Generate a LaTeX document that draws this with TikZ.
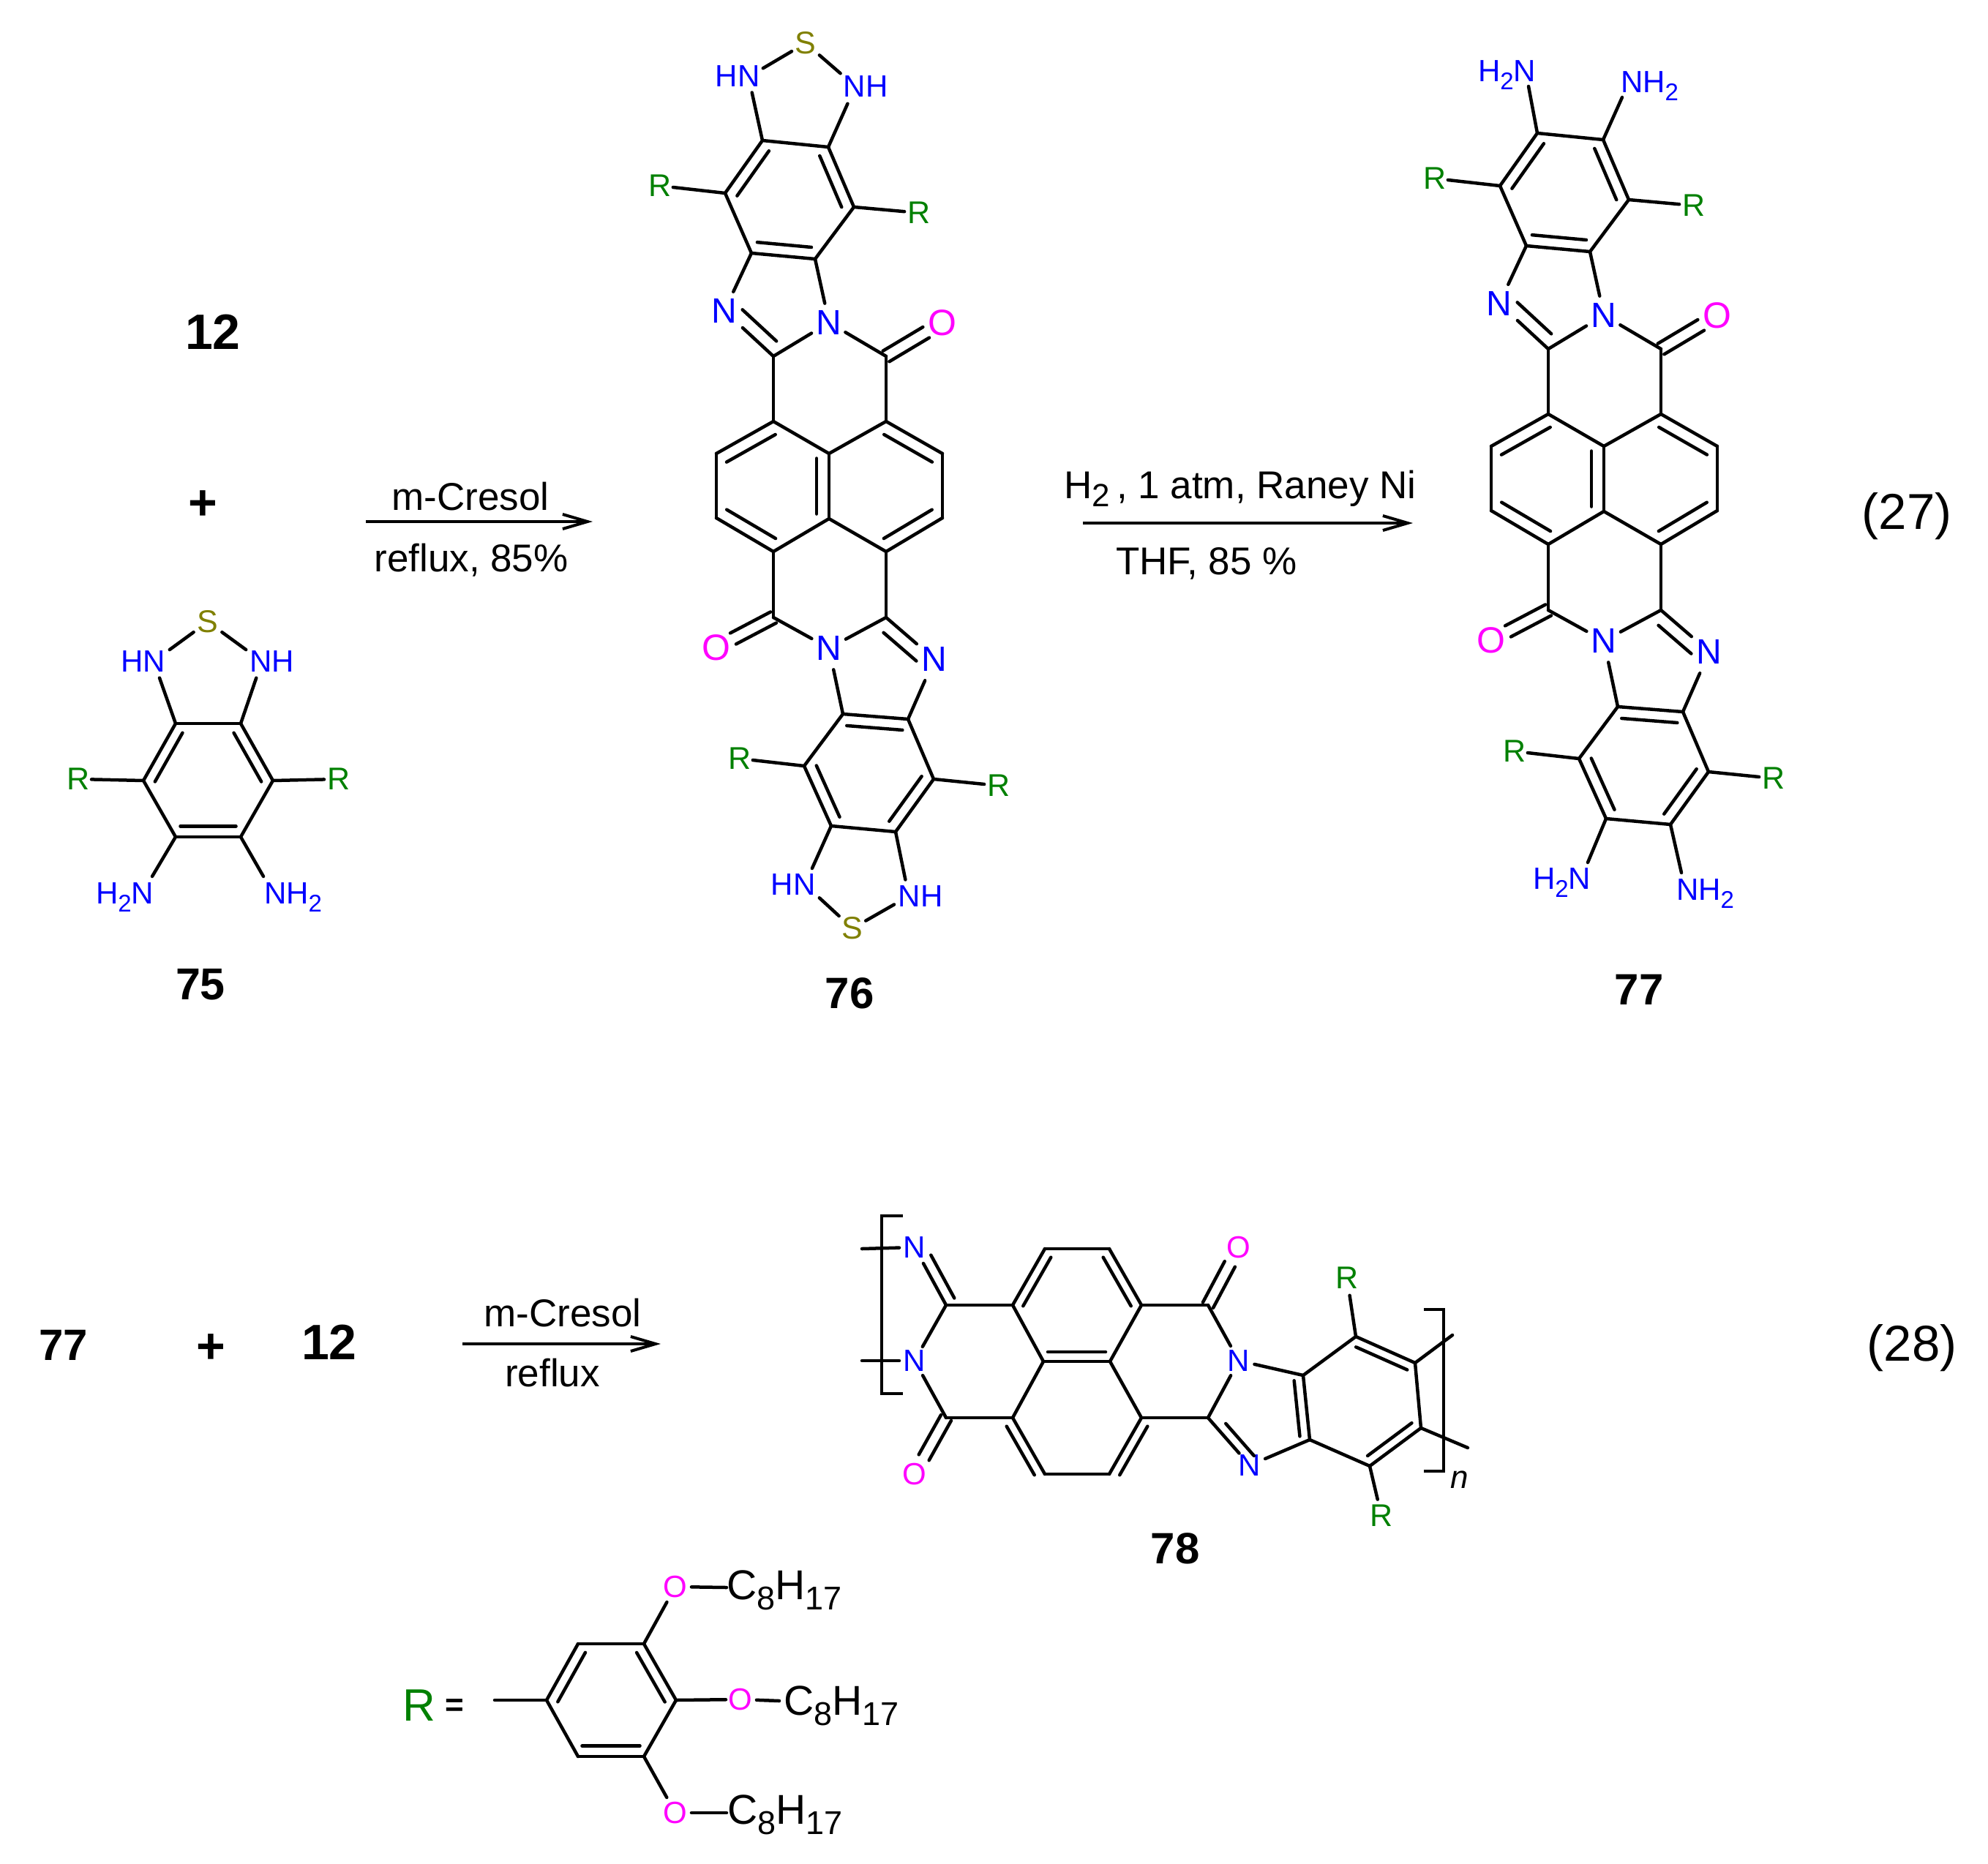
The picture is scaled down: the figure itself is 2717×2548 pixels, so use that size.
\documentclass[tikz,border=0pt]{standalone}
\usepackage{fontspec}
\setmainfont{Liberation Sans}
\usetikzlibrary{calc,arrows.meta}
\definecolor{cN}{HTML}{0000FF}
\definecolor{cO}{HTML}{FF00FF}
\definecolor{cS}{HTML}{808000}
\definecolor{cR}{HTML}{008000}
\newcommand\fs[1]{\fontsize{#1}{#1}\selectfont}
\tikzset{
 bond/.style={line width=4.5pt,line cap=round,line join=round,black},
 ga/.style={shorten <=#1pt},
 gb/.style={shorten >=#1pt},
 lab/.style={inner sep=0pt,outer sep=0pt},
 lN/.style={lab,text=cN,font=\fs{48}},
 lNs/.style={lab,text=cN,font=\fs{42}},
 lNt/.style={lab,text=cN,font=\fs{42}},
 lO/.style={lab,text=cO,font=\fs{50}},
 lOs/.style={lab,text=cO,font=\fs{42}},
 lS/.style={lab,text=cS,font=\fs{43}},
 lR/.style={lab,text=cR,font=\fs{43}},
 lT/.style={lab,text=black,font=\fs{53},anchor=base},
 lB/.style={lab,text=black,font=\fs{60}\bfseries},
 lE/.style={lab,text=black,font=\fs{69}},
 lC/.style={lab,text=black,font=\fs{57},anchor=base west},
 rxn/.style={line width=4pt,-{Straight Barb[length=34pt,width=20pt]}},
 brk/.style={line width=3.5pt,line cap=butt,line join=miter},
}
\def\ioff{15.5}
\def\ish{6.5}
\newcommand\bn[3][]{\draw[bond,#1] (#2) -- (#3);}
\newcommand\ib[2]{\draw[bond,shorten <=\ish pt,shorten >=\ish pt] ($(#1)!\ioff pt!-90:(#2)$) -- ($(#2)!\ioff pt!90:(#1)$);}
\newcommand\ibx[5]{\draw[bond,shorten <=#2pt,shorten >=#3pt] ($(#4)!#1pt!-90:(#5)$) -- ($(#5)!#1pt!90:(#4)$);}
\newcommand\dbo[3][8.5]{%
 \draw[bond,shorten >=26pt] ($(#2)!#1pt!-90:(#3)$) -- ($(#3)!#1pt!90:(#2)$);
 \draw[bond,shorten >=26pt] ($(#2)!#1pt!90:(#3)$) -- ($(#3)!#1pt!-90:(#2)$);}
\newcommand\atom[5]{\coordinate (#1) at (#2,#3); \node[#4] (#1t) at (#1) {#5};}
\newcommand\HtN{H\raisebox{-11pt}{\fs{33}2}N}
\newcommand\NHt{NH\raisebox{-11pt}{\fs{33}2}}
\newcommand\CeH{C\raisebox{-14pt}{\fs{45}8}H\raisebox{-14pt}{\fs{45}17}}
\newcommand\skel{%
 \foreach \n/\x/\y in {a/1042/192,b/1132/201,c/1167/283,d/1114/354,e/1027/346,f/991/264,
   g/1152/976,h/1241/983,i/1276/1065,j/1224/1137,k/1136/1129,l/1099/1047,
   Ca/1057/487,Cb/1211/487,Cc/1057/576,Cd/1211/576,Cm/1133/620,Ce/979/620,Cf/1288/620,
   Cg/979/708,Ch/1288/708,Cn/1133/709,Ci/1057/754,Cj/1211/754,Ck/1057/844,Cl/1211/844}
   {\coordinate (\n) at (\x,\y);}
 \atom{Na}{990}{425}{lN}{N}
 \atom{Nb}{1133}{441}{lN}{N}
 \atom{Oa}{1288}{441}{lO}{O}
 \atom{Nc}{1133}{886}{lN}{N}
 \atom{Nd}{1277}{901}{lN}{N}
 \atom{Ob}{979}{885}{lO}{O}
 \atom{Ra}{902}{254}{lR}{R}
 \atom{Rb}{1256}{291}{lR}{R}
 \atom{Rc}{1011}{1037}{lR}{R}
 \atom{Rd}{1365}{1074}{lR}{R}
 \bn{a}{b}\bn{b}{c}\bn{c}{d}\bn{d}{e}\bn{e}{f}\bn{f}{a}
 \ib{f}{a}\ib{b}{c}\ib{d}{e}
 \bn{g}{h}\bn{h}{i}\bn{i}{j}\bn{j}{k}\bn{k}{l}\bn{l}{g}
 \ib{g}{h}\ib{i}{j}\ib{k}{l}
 \bn[gb=18]{f}{Ra}\bn[gb=20]{c}{Rb}\bn[gb=18]{l}{Rc}\bn[gb=20]{i}{Rd}
 \bn[gb=29]{e}{Na}\bn[gb=27]{d}{Nb}\bn[gb=28]{Ca}{Nb}\bn[gb=26]{Cb}{Nb}
 \bn[gb=34]{Ca}{Na}\ibx{18}{11}{17}{Ca}{Na}
 \dbo{Cb}{Oa}
 \bn{Ca}{Cc}\bn{Cb}{Cd}
 \bn{Cc}{Cm}\bn{Cm}{Cd}\bn{Cd}{Cf}\bn{Cf}{Ch}\bn{Ch}{Cj}\bn{Cj}{Cn}\bn{Cn}{Ci}\bn{Ci}{Cg}\bn{Cg}{Ce}\bn{Ce}{Cc}\bn{Cm}{Cn}
 \def\ioff{17}
 \ib{Ce}{Cc}\ib{Ci}{Cg}\ib{Cd}{Cf}\ib{Ch}{Cj}\ib{Cm}{Cn}
 \bn{Ci}{Ck}\bn{Cj}{Cl}
 \dbo{Ck}{Ob}
 \bn[gb=27]{Ck}{Nc}\bn[gb=26]{Cl}{Nc}
 \bn[gb=32]{Cl}{Nd}\ibx{18}{11}{17}{Cl}{Nd}
 \bn[ga=30]{Nc}{g}\bn[gb=32]{h}{Nd}
 \def\ioff{15.5}
}
\begin{document}
\begin{tikzpicture}[x=1pt,y=-1pt]
\useasboundingbox (0,0) rectangle (2717,2548);

\begin{scope}[name prefix=P-]
 \skel
 \coordinate (sN1) at (1023,105); \node[lNs] (sHN) at (1008,104) {HN};
 \coordinate (sN2) at (1169,118); \node[lNs] (sNH) at (1183,118) {NH};
 \atom{sS}{1101}{59}{lS}{S}
 \bn[gb=22]{a}{sN1}\bn[gb=26]{b}{sN2}
 \bn[ga=23,gb=22]{sN1}{sS}\bn[ga=25,gb=27]{sS}{sN2}
 \coordinate (tN1) at (1100,1209); \node[lNs] (tHN) at (1084,1209) {HN};
 \coordinate (tN2) at (1242,1225); \node[lNs] (tNH) at (1258,1225) {NH};
 \atom{tS}{1165}{1269}{lS}{S}
 \bn[gb=24]{k}{tN1}\bn[gb=23]{j}{tN2}
 \bn[ga=27,gb=25]{tN1}{tS}\bn[ga=21,gb=23]{tS}{tN2}
\end{scope}
\node[lB] (l76) at (1161,1358) {76};

\begin{scope}[shift={(1059,-10)},name prefix=Q-]
 \skel
\end{scope}
\node[lNs,anchor=base west] (uH) at (2020,111) {\HtN};
\node[lNs,anchor=base west] (uN) at (2215,126) {\NHt};
\coordinate (ue1) at (2089,118);
\coordinate (ue2) at (2217,133);
\bn{Q-a}{ue1}\bn{Q-b}{ue2}
\node[lNs,anchor=base west] (vH) at (2095,1215) {\HtN};
\node[lNs,anchor=base west] (vN) at (2291,1230) {\NHt};
\coordinate (ve1) at (2170,1179);
\coordinate (ve2) at (2298,1193);
\bn{Q-k}{ve1}\bn{Q-j}{ve2}
\node[lB] (l77) at (2240,1353) {77};

\foreach \n/\x/\y in {ma/240/989,mb/329/989,mc/373/1067,md/329/1144,me/240/1144,mf/196/1067,
  mN1/210/904,mN2/358/904} {\coordinate (\n) at (\x,\y);}
\node[lNs] (mHN) at (196,904) {HN};
\node[lNs] (mNH) at (372,904) {NH};
\atom{mS}{284}{850}{lS}{S}
\atom{mRa}{107}{1065}{lR}{R}
\atom{mRb}{463}{1065}{lR}{R}
\def\ioff{14.5}
\bn{ma}{mb}\bn{mb}{mc}\bn{mc}{md}\bn{md}{me}\bn{me}{mf}\bn{mf}{ma}
\ib{mf}{ma}\ib{mb}{mc}\ib{md}{me}
\bn[gb=24]{ma}{mN1}\bn[gb=24]{mb}{mN2}
\bn[ga=27,gb=24]{mN1}{mS}\bn[ga=24,gb=27]{mS}{mN2}
\bn[gb=18]{mf}{mRa}\bn[gb=20]{mc}{mRb}
\node[lNs,anchor=base west] (mH2) at (131,1235) {\HtN};
\node[lNs,anchor=base west] (mN3) at (361,1235) {\NHt};
\coordinate (me1) at (208,1198);
\coordinate (me2) at (360,1198);
\bn{me}{me1}\bn{md}{me2}
\node[lB,font=\fs{61}\bfseries] (l75) at (274,1346) {75};
\node[lB,font=\fs{68}\bfseries] (l12a) at (291,454) {12};
\node[lB,font=\fs{68}\bfseries] (pl1) at (277,691) {+};

\coordinate (ar1a) at (500,713); \coordinate (ar1b) at (810,713);
\draw[rxn] (ar1a) -- (ar1b);
\node[lT] (tr1) at (643,697) {m-Cresol};
\node[lT] (tr2) at (644,781) {reflux, 85\%};
\coordinate (ar2a) at (1480,715); \coordinate (ar2b) at (1931,715);
\draw[rxn] (ar2a) -- (ar2b);
\node[lT] (tr3) at (1695,681) {H\raisebox{-11pt}{\fs{44}2}\,, 1 atm, Raney Ni};
\node[lT] (tr4) at (1649,785) {THF, 85 \%};
\node[lE] (eq27) at (2606,706) {(27)};

\node[lB] (l77b) at (87,1839) {77};
\node[lB,font=\fs{68}\bfseries] (pl2) at (288,1844) {+};
\node[lB,font=\fs{68}\bfseries] (l12b) at (450,1835) {12};
\coordinate (ar3a) at (632,1837); \coordinate (ar3b) at (903,1837);
\draw[rxn] (ar3a) -- (ar3b);
\node[lT] (tr5) at (769,1813) {m-Cresol};
\node[lT] (tr6) at (755,1895) {reflux};
\node[lE] (eq28) at (2613,1843) {(28)};

\foreach \n/\x/\y in {Ca/1293/1784,Cb/1293/1938,A/1384/1784,B/1428/1707,C/1516/1707,D/1560/1784,
  E/1517/1861,F/1426/1861,G/1384/1938,H/1428/2015,I/1516/2015,J/1560/1938,Cc/1651/1784,Cd/1651/1938,
  K/1790/1968,L/1781/1880,M/1853/1827,P/1934/1863,Q/1942/1952,S/1872/2004,
  pe1/1178/1707,pe2/1178/1860,pe3/1985/1825,pe4/2006/1979,
  bl1/1234/1662,bl2/1205/1662,bl3/1205/1905,bl4/1234/1905,
  br1/1946/1790,br2/1973/1790,br3/1973/2011,br4/1946/2011} {\coordinate (\n) at (\x,\y);}
\atom{Na}{1250}{1705}{lNt}{N}
\atom{Nb}{1250}{1860}{lNt}{N}
\atom{Nc}{1693}{1860}{lNt}{N}
\atom{Nd}{1708}{2003}{lNt}{N}
\atom{Oa}{1693}{1705}{lOs}{O}
\atom{Ob}{1250}{2015}{lOs}{O}
\atom{Ra}{1841}{1747}{lR}{R}
\atom{Rb}{1888}{2072}{lR}{R}
\def\ioff{13}\def\ish{6}
\draw[brk] (bl1) -- (bl2) -- (bl3) -- (bl4);
\draw[brk] (br1) -- (br2) -- (br3) -- (br4);
\node[lab,font=\fs{44}\itshape] (nn) at (1995,2023) {n};
\bn[gb=21]{pe1}{Na}\bn[gb=21]{pe2}{Nb}
\bn[gb=25]{Ca}{Na}\ibx{14.5}{3}{20}{Ca}{Na}
\bn[gb=22]{Ca}{Nb}\bn[gb=23]{Cb}{Nb}
\dbo[8]{Cb}{Ob}\dbo[8]{Cc}{Oa}
\bn{Ca}{A}\bn{Cb}{G}
\bn{A}{B}\bn{B}{C}\bn{C}{D}\bn{D}{E}\bn{E}{F}\bn{F}{A}
\bn{F}{G}\bn{G}{H}\bn{H}{I}\bn{I}{J}\bn{J}{E}
\ib{A}{B}\ib{C}{D}\ib{E}{F}\ib{G}{H}\ib{I}{J}
\bn{D}{Cc}\bn{J}{Cd}
\bn[gb=23]{Cc}{Nc}\bn[gb=23]{Cd}{Nc}
\bn[gb=22]{Cd}{Nd}\ibx{13}{6}{22}{Nd}{Cd}
\bn[ga=23]{Nd}{K}\bn[ga=22]{Nc}{L}
\bn{L}{K}\ib{L}{K}
\bn{L}{M}\bn{M}{P}\bn{P}{Q}\bn{Q}{S}\bn{S}{K}
\ib{M}{P}\ib{Q}{S}
\bn[gb=24]{M}{Ra}\bn[gb=23]{S}{Rb}
\bn{P}{pe3}\bn{Q}{pe4}
\node[lB] (l78) at (1606,2117) {78};

\foreach \n/\x/\y in {T/747/2324,U/790/2247,V/880/2247,W/924/2324,X/880/2401,Y/790/2401,
  re/676/2324} {\coordinate (\n) at (\x,\y);}
\node[lab,text=cR,font=\fs{62}] (rR) at (573,2331) {R};
\node[lab,font=\fs{44}\bfseries] (req) at (621,2334) {=};
\atom{Oc}{923}{2169}{lOs}{O}
\atom{Od}{1012}{2323}{lOs}{O}
\atom{Oe}{923}{2478}{lOs}{O}
\def\ioff{14.5}\def\ish{5.5}
\bn{re}{T}
\bn{T}{U}\bn{U}{V}\bn{V}{W}\bn{W}{X}\bn{X}{Y}\bn{Y}{T}
\ib{T}{U}\ib{V}{W}\ib{X}{Y}
\bn[gb=24]{V}{Oc}\bn[gb=20]{W}{Od}\bn[gb=24]{X}{Oe}
\node[lC] (rc1) at (993,2186) {\CeH};
\node[lC] (rc2) at (1071,2344) {\CeH};
\node[lC] (rc3) at (994,2493) {\CeH};
\coordinate (rb1) at (993,2170);
\coordinate (rb2) at (1065,2325);
\coordinate (rb3) at (993,2478);
\bn[ga=22]{Oc}{rb1}\bn[ga=22]{Od}{rb2}\bn[ga=22]{Oe}{rb3}
\end{tikzpicture}
\end{document}
